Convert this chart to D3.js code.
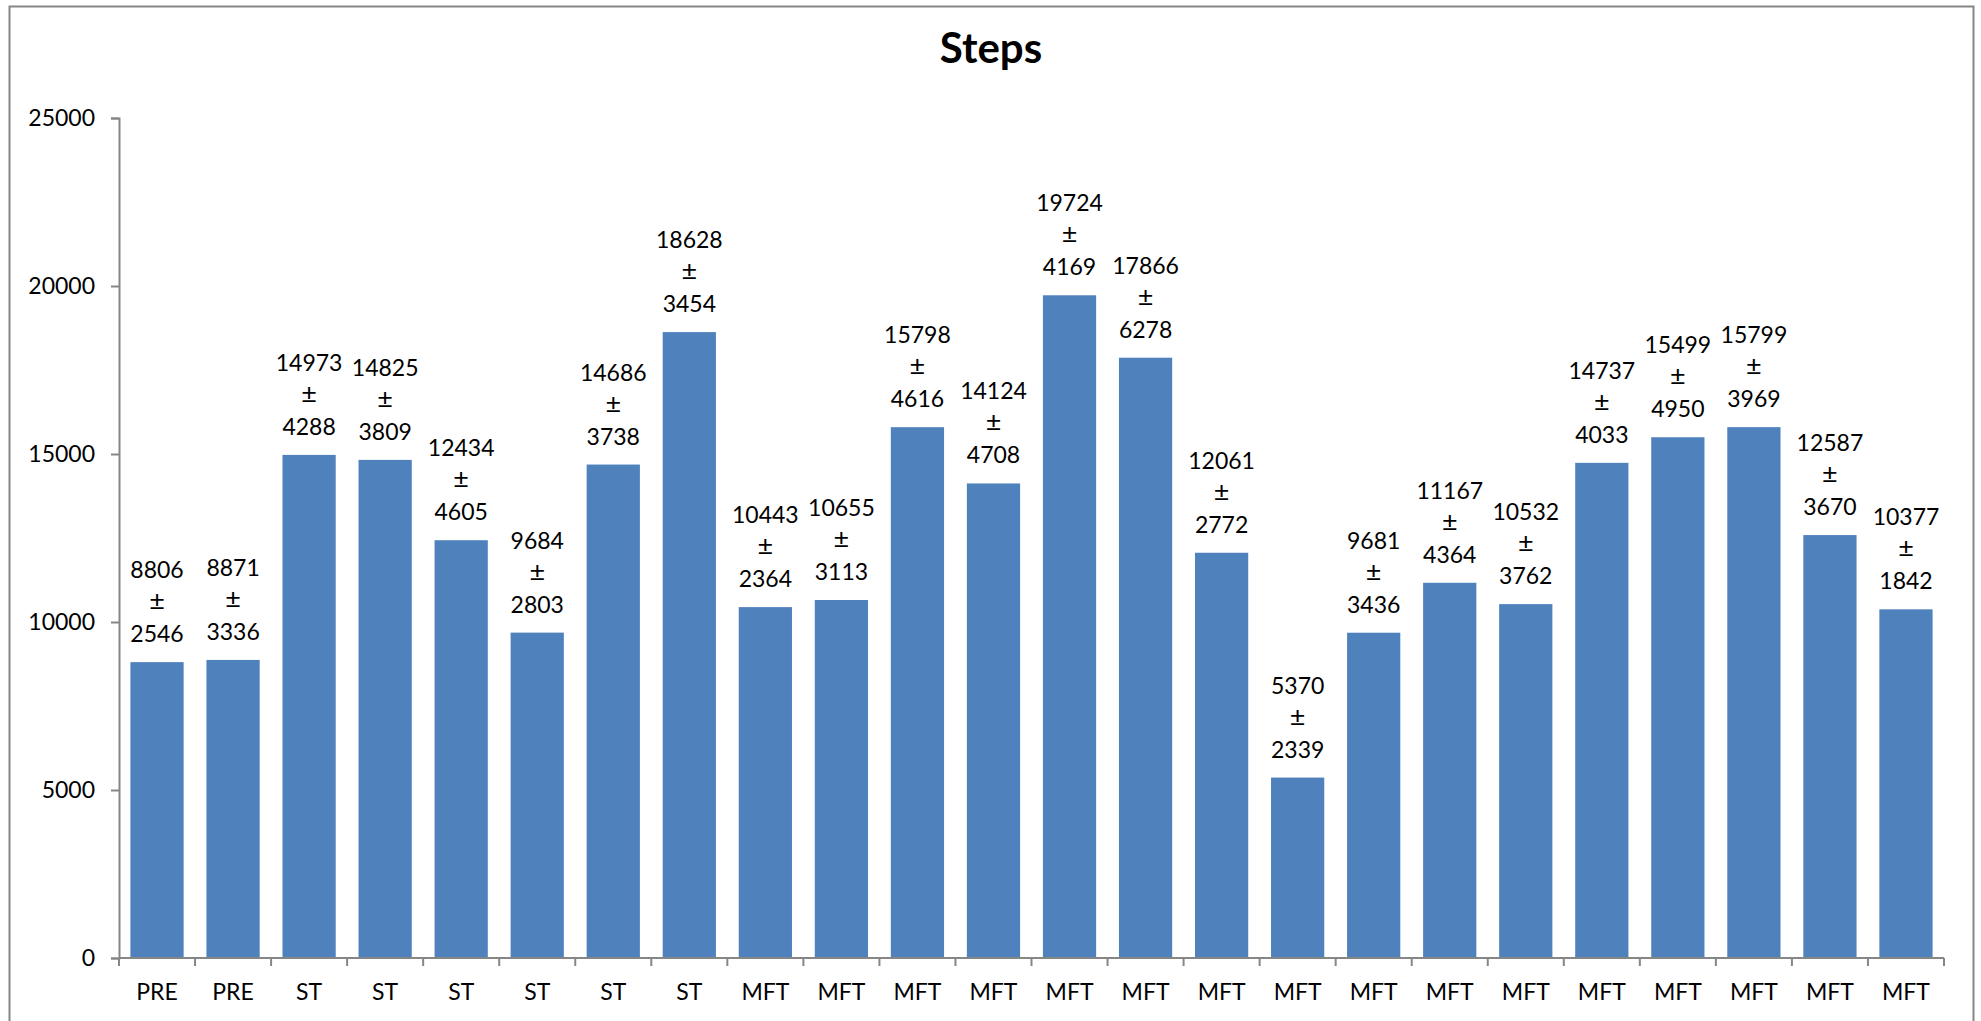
<!DOCTYPE html>
<html>
<head>
<meta charset="utf-8">
<script src="https://cdn.jsdelivr.net/npm/d3@7"></script>
<style>
  body { margin: 0; background: #fff; }
  text { font-family: Lato, "Open Sans", sans-serif; fill: #000; }
</style>
</head>
<body>
<div id="chart"></div>
<script>
var groups = ['PRE', 'PRE', 'ST', 'ST', 'ST', 'ST', 'ST', 'ST',
  'MFT', 'MFT', 'MFT', 'MFT', 'MFT', 'MFT', 'MFT', 'MFT',
  'MFT', 'MFT', 'MFT', 'MFT', 'MFT', 'MFT', 'MFT', 'MFT'];
var means = [8806, 8871, 14973, 14825, 12434, 9684, 14686, 18628,
  10443, 10655, 15798, 14124, 19724, 17866, 12061, 5370,
  9681, 11167, 10532, 14737, 15499, 15799, 12587, 10377];
var sds = [2546, 3336, 4288, 3809, 4605, 2803, 3738, 3454,
  2364, 3113, 4616, 4708, 4169, 6278, 2772, 2339,
  3436, 4364, 3762, 4033, 4950, 3969, 3670, 1842];
var yTicks = [0, 5000, 10000, 15000, 20000, 25000];

var width = 1981;
var height = 1021;
var plotLeft = 119, plotRight = 1944, plotTop = 118, plotBottom = 958;
var axisColor = '#868686';

var svg = d3.select('#chart')
  .append('svg')
  .attr('width', width)
  .attr('height', height);

// outer chart frame (runs off the bottom like the original)
svg.append('rect')
  .attr('x', 9.5)
  .attr('y', 6.5)
  .attr('width', 1964)
  .attr('height', 1040)
  .attr('fill', 'none')
  .attr('stroke', axisColor)
  .attr('stroke-width', 2);

svg.append('text')
  .attr('x', 991)
  .attr('y', 63)
  .attr('text-anchor', 'middle')
  .style('font-size', '42px')
  .style('font-weight', 'bold')
  .text('Steps');

var x = d3.scaleBand()
  .domain(d3.range(means.length))
  .range([plotLeft, plotRight])
  .paddingInner(0.3)
  .paddingOuter(0.15);

var y = d3.scaleLinear()
  .domain([0, 25000])
  .range([plotBottom, plotTop]);

// y axis
var yAxis = svg.append('g')
  .attr('transform', 'translate(' + plotLeft + ',0)')
  .call(d3.axisLeft(y).tickValues(yTicks).tickSize(8).tickPadding(16).tickFormat(d3.format('d')));
yAxis.select('.domain').attr('stroke', axisColor).attr('stroke-width', 2);
yAxis.selectAll('.tick line').attr('stroke', axisColor).attr('stroke-width', 2);
yAxis.selectAll('.tick text')
  .style('font-size', '23px')
  .style('font-family', 'Lato, sans-serif')
  .attr('fill', '#000');

// bars
svg.selectAll('.bar')
  .data(means)
  .enter()
  .append('rect')
  .attr('class', 'bar')
  .attr('x', function(d, i) { return x(i); })
  .attr('y', function(d) { return y(d); })
  .attr('width', x.bandwidth())
  .attr('height', function(d) { return y(0) - y(d); })
  .attr('fill', '#4F81BD');

// x axis with tick marks between categories
var step = x.step();
svg.append('line')
  .attr('x1', plotLeft).attr('x2', plotRight)
  .attr('y1', plotBottom).attr('y2', plotBottom)
  .attr('stroke', axisColor)
  .attr('stroke-width', 2);

svg.selectAll('.xtick')
  .data(d3.range(means.length + 1))
  .enter()
  .append('line')
  .attr('class', 'xtick')
  .attr('x1', function(d) { return plotLeft + d * step; })
  .attr('x2', function(d) { return plotLeft + d * step; })
  .attr('y1', plotBottom)
  .attr('y2', plotBottom + 8)
  .attr('stroke', axisColor)
  .attr('stroke-width', 2);

svg.selectAll('.xlabel')
  .data(groups)
  .enter()
  .append('text')
  .attr('class', 'xlabel')
  .attr('x', function(d, i) { return x(i) + x.bandwidth() / 2; })
  .attr('y', 1000)
  .attr('text-anchor', 'middle')
  .style('font-size', '23px')
  .text(function(d) { return d; });

// data labels: mean ± sd stacked
var labels = svg.selectAll('.label')
  .data(means)
  .enter()
  .append('g')
  .attr('class', 'label')
  .attr('transform', function(d, i) {
    return 'translate(' + (x(i) + x.bandwidth() / 2) + ',' + y(d) + ')';
  });

labels.append('text')
  .attr('y', -84)
  .attr('text-anchor', 'middle')
  .style('font-size', '23px')
  .text(function(d) { return d; });

labels.append('text')
  .attr('y', -52)
  .attr('text-anchor', 'middle')
  .style('font-size', '27px')
  .text('±');

labels.append('text')
  .attr('y', -20)
  .attr('text-anchor', 'middle')
  .style('font-size', '23px')
  .text(function(d, i) { return sds[i]; });
</script>
</body>
</html>
